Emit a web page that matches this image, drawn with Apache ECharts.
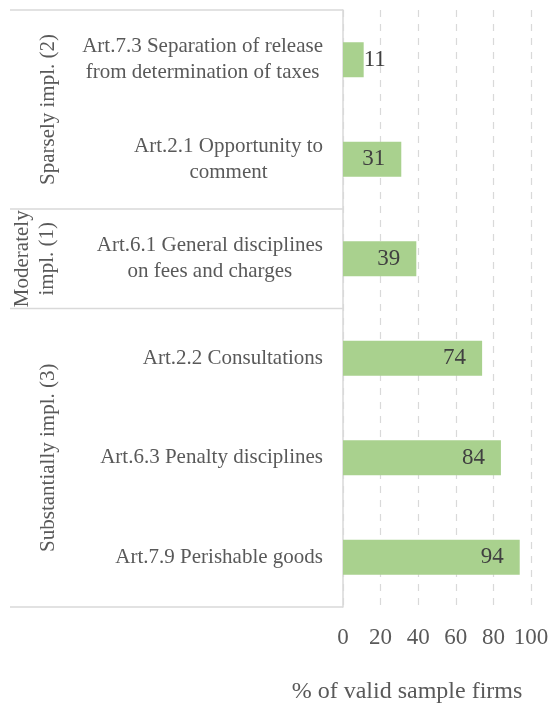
<!DOCTYPE html>
<html>
<head>
<meta charset="utf-8">
<script src="https://cdn.jsdelivr.net/npm/echarts@6/dist/echarts.min.js"></script>
<style>
  html, body { margin: 0; padding: 0; background: #ffffff; }
  #chart { width: 549px; height: 704px; }
</style>
</head>
<body>
<div id="chart"></div>
<script>
// Provisions of the agreement, top to bottom
const categories = [
  'Art.7.3 Separation of release\nfrom determination of taxes',
  'Art.2.1 Opportunity to\ncomment',
  'Art.6.1 General disciplines\non fees and charges',
  'Art.2.2 Consultations',
  'Art.6.3 Penalty disciplines',
  'Art.7.9 Perishable goods'
];
// Share of valid sample firms (%)
const values = [11, 31, 39, 74, 84, 94];
// Implementation groups: label and the category indices they cover
const groupLabels = ['Sparsely impl. (2)', 'Moderately\nimpl. (1)', 'Substantially impl. (3)'];
const groupStart = [0, 2, 3];
const groupEnd = [1, 2, 5];
// Horizontal axis ticks
const xTicks = [0, 20, 40, 60, 80, 100];

const FONT = '"Liberation Serif", "Times New Roman", serif';
const GREY = '#595959';
const RULE = '#d9d9d9';

const chart = echarts.init(document.getElementById('chart'), null, { renderer: 'canvas' });

const barData = values.map(v => ({
  value: v,
  label: v < 20
    ? { position: 'right', distance: 0 }
    : { position: 'insideRight', distance: 16 }
}));

chart.setOption({
  animation: false,
  backgroundColor: '#ffffff',
  grid: { left: 343, right: 18, top: 10, bottom: 97, containLabel: false, outerBoundsMode: 'none' },
  xAxis: {
    type: 'value',
    min: xTicks[0],
    max: xTicks[xTicks.length - 1],
    interval: xTicks[1] - xTicks[0],
    axisLine: { show: false },
    axisTick: { show: false },
    splitLine: { show: true, lineStyle: { color: RULE, width: 1.2, type: [7, 7] } },
    axisLabel: { color: GREY, fontFamily: FONT, fontSize: 23, margin: 19 },
    name: '% of valid sample firms',
    nameLocation: 'middle',
    nameGap: 73,
    nameTextStyle: { color: GREY, fontFamily: FONT, fontSize: 24, padding: [0, 60, 0, 0] }
  },
  yAxis: {
    type: 'category',
    inverse: true,
    data: categories,
    axisLine: { show: true, lineStyle: { color: RULE, width: 1.5 } },
    axisTick: { show: false },
    splitLine: { show: false },
    axisLabel: {
      color: GREY,
      fontFamily: FONT,
      fontSize: 21,
      lineHeight: 26,
      margin: 20,
      align: 'right',
      formatter: v => v.split('\n').map(s => '{c|' + s + '}').join('\n'),
      rich: {
        c: { align: 'center', color: GREY, fontFamily: FONT, fontSize: 21, lineHeight: 26 }
      }
    }
  },
  series: [{
    type: 'bar',
    data: barData,
    barWidth: 35,
    itemStyle: { color: '#a9d18e' },
    label: {
      show: true,
      color: '#404040',
      fontFamily: FONT,
      fontSize: 23
    }
  }]
});

// Group separators and rotated group titles, placed from the category axis
function drawGroups() {
  const y0 = chart.convertToPixel({ yAxisIndex: 0 }, 0);
  const y1 = chart.convertToPixel({ yAxisIndex: 0 }, 1);
  const band = Math.abs(y1 - y0);
  const axisX = chart.convertToPixel({ xAxisIndex: 0 }, 0);
  const leftX = 10;
  const els = [];
  const edges = new Set();
  groupStart.forEach((s, i) => {
    const top = chart.convertToPixel({ yAxisIndex: 0 }, s) - band / 2;
    const bot = chart.convertToPixel({ yAxisIndex: 0 }, groupEnd[i]) + band / 2;
    edges.add(Math.round(top * 2) / 2);
    edges.add(Math.round(bot * 2) / 2);
    const lines = groupLabels[i].split('\n').length;
    els.push({
      type: 'text',
      x: lines > 1 ? 35 : 48,
      y: (top + bot) / 2,
      rotation: Math.PI / 2,
      style: {
        text: groupLabels[i],
        fill: GREY,
        font: '21px ' + FONT,
        align: 'center',
        verticalAlign: 'middle',
        lineHeight: 25
      }
    });
  });
  edges.forEach(y => {
    els.push({
      type: 'line',
      shape: { x1: leftX, y1: y, x2: axisX, y2: y },
      style: { stroke: RULE, lineWidth: 1.5 }
    });
  });
  chart.setOption({ graphic: { elements: els } });
}
drawGroups();
</script>
</body>
</html>
